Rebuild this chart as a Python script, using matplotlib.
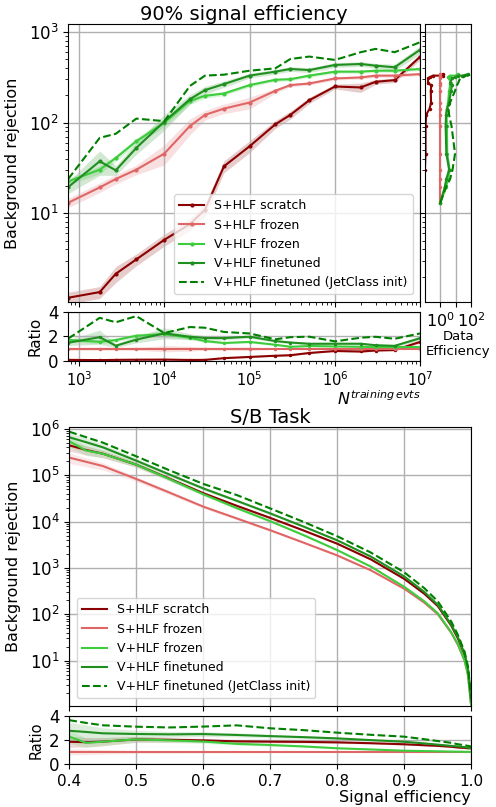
import matplotlib
matplotlib.use("Agg")
import matplotlib.pyplot as plt
import numpy as np

labels = ["S+HLF scratch", "S+HLF frozen", "V+HLF frozen", "V+HLF finetuned",
          "V+HLF finetuned (JetClass init)"]
colors = ["darkred", "#e06666", "#3ccc3c", "#1f8f1f", "green"]

# --- top: rejection at 90% signal efficiency vs training size
n_train = [750, 1750, 2700, 4700, 1e4, 2e4, 3e4, 5e4, 1e5, 2e5, 3e5, 5e5,
           1e6, 2e6, 3e6, 5e6, 1e7]
rej_scratch = [1.17, 1.35, 2.15, 3.1, 5.1, 7.6, 11, 33, 55, 96, 122, 177,
               251, 245, 283, 295, 537]
rej_s_frozen = [13.1, 19.3, 23.9, 30.3, 45.6, 92, 122, 143, 167, 225, 260,
                271, 308, 316, 331, 331, 344]
rej_v_frozen = [22.5, 30.3, 40.8, 62.5, 100, 174, 198, 210, 260, 298, 302,
                331, 366, 366, 375, 375, 392]
rej_v_fine = [19.5, 37.5, 29.8, 52.7, 103, 182, 229, 267, 331, 366, 392,
              381, 434, 445, 426, 409, 641]
rej_v_jc = [24, 68, 75.5, 111, 104, 255, 331, 339, 375, 398, 505, 537, 493,
            600, 653, 600, 775]

# relative band half-widths
err_scratch = [0.15, 0.15, 0.2, 0.15, 0.15, 0.15, 0.15, 0.15, 0.15, 0.1,
               0.1, 0.08, 0.06, 0.12, 0.06, 0.06, 0.08]
err_s_frozen = [0.12, 0.12, 0.12, 0.12, 0.25, 0.2, 0.12, 0.12, 0.15, 0.06,
                0.04, 0.04, 0.04, 0.04, 0.04, 0.04, 0.04]
err_v_frozen = [0.08, 0.1, 0.08, 0.08, 0.1, 0.08, 0.06, 0.05, 0.05, 0.04,
                0.04, 0.04, 0.04, 0.04, 0.04, 0.04, 0.04]
err_v_fine = [0.15, 0.3, 0.12, 0.15, 0.2, 0.12, 0.1, 0.08, 0.06, 0.06,
              0.06, 0.06, 0.06, 0.06, 0.06, 0.08, 0.1]

# data efficiency (side panel), at the S+HLF frozen rejection levels
deff_scratch = [np.nan, np.nan, np.nan, 0.1, 0.11, 0.11, 0.12, 0.2, 0.25,
                0.24, 0.26, 0.16, 0.16, 0.2, 0.33, 1.5, 1.5]
deff_s_frozen = [1.0] * 17
deff_v_frozen = [1.0, 2.3, 3.2, 4.0, 2.8, 2.7, 2.5, 2.7, 3.2, 3.7, 4.3, 4.9,
                 3.7, 3.2, 4.1, 10.5, 14]
deff_v_fine = [1.0, 1.9, 2.45, 3.7, 2.45, 2.2, 2.35, 2.7, 3.7, 4.9, 5.7,
               4.3, 5.7, 9, 14, 25, 63]
deff_v_jc = [1.0, 2.3, 4.3, 6.2, 9, 5.3, 3.7, 3.4, 4.3, 9, 12, 14, 19, 30,
             47, 63, 100]

# --- bottom: ROC curves
sig_eff = [0.40, 0.425, 0.45, 0.50, 0.55, 0.60, 0.65, 0.70, 0.75, 0.80,
           0.85, 0.90, 0.93, 0.95, 0.97, 0.98, 0.99, 0.995, 1.0]
roc_scratch = [4.42e5, 3.51e5, 2.92e5, 1.69e5, 8.4e4, 4.1e4, 2.19e4, 1.2e4,
               6.4e3, 3.33e3, 1530, 579, 276, 150, 57, 30, 13.3, 6.5, 1.3]
roc_s_frozen = [2.4e5, 1.95e5, 1.58e5, 8.3e4, 4.2e4, 2.1e4, 1.17e4, 6.5e3,
                3.5e3, 1.86e3, 890, 355, 178, 100, 40, 22, 10, 5, 1.0]
roc_v_frozen = [5.42e5, 3.41e5, 2.91e5, 1.69e5, 8.2e4, 3.89e4, 1.95e4,
                1.02e4, 5.08e3, 2.42e3, 1070, 390, 190, 105, 41, 22.4, 10.1,
                5.0, 1.0]
roc_v_fine = [6.6e5, 5.17e5, 4.01e5, 2.06e5, 1.03e5, 5.2e4, 2.81e4, 1.5e4,
              7.77e3, 3.94e3, 1760, 653, 303, 160, 60, 32, 14, 6.75, 1.3]
roc_v_jc = [8.7e5, 6.63e5, 5.06e5, 2.56e5, 1.27e5, 6.5e4, 3.74e4, 1.92e4,
            9.8e3, 4.82e3, 2150, 802, 365, 190, 70, 36, 15.5, 7.5, 1.45]
roc_err = [0.25, 0.22, 0.18, 0.12, 0.1, 0.08, 0.07, 0.06, 0.05, 0.05, 0.04,
           0.04, 0.04, 0.04, 0.04, 0.04, 0.04, 0.04, 0.04]

plt.rcParams['font.size'] = 12
fig = plt.figure(figsize=(4.96, 8.07), dpi=100)

ax_top = fig.add_axes([0.1377, 0.6258, 0.7097, 0.3445])
ax_topr = fig.add_axes([0.1377, 0.5527, 0.7097, 0.0607], sharex=ax_top)
ax_side = fig.add_axes([0.8563, 0.6258, 0.094, 0.3445], sharey=ax_top)
ax_bot = fig.add_axes([0.1397, 0.1252, 0.8105, 0.3457])
ax_botr = fig.add_axes([0.1397, 0.0533, 0.8105, 0.0599], sharex=ax_bot)

n = np.array(n_train)
ref = np.array(rej_s_frozen)
top_series = [rej_scratch, rej_s_frozen, rej_v_frozen, rej_v_fine]
top_err = [err_scratch, err_s_frozen, err_v_frozen, err_v_fine]
for y, e, c, lab in zip(top_series, top_err, colors[:4], labels[:4]):
    y = np.array(y)
    e = np.array(e)
    ax_top.fill_between(n, y * (1 - e), y * (1 + e), color=c, alpha=0.2, lw=0)
    ax_top.plot(n, y, color=c, marker='.', ms=4, lw=1.5, label=lab)
    ax_topr.fill_between(n, y * (1 - e) / ref, y * (1 + e) / ref, color=c,
                         alpha=0.2, lw=0)
    ax_topr.plot(n, y / ref, color=c, marker='.', ms=3, lw=1.5)
ax_top.plot(n, rej_v_jc, color=colors[4], ls='--', lw=1.5, label=labels[4])
ax_topr.plot(n, np.array(rej_v_jc) / ref, color=colors[4], ls='--', lw=1.5)

ax_top.set_xscale('log')
ax_top.set_yscale('log')
ax_top.set_xlim(750, 1e7)
ax_top.set_ylim(1.05, 1230)
ax_top.grid(True, color='#b0b0b0', lw=1)
ax_top.tick_params(labelbottom=False)
ax_top.set_ylabel('Background rejection', fontsize=11.5, labelpad=6)
ax_top.set_title('90% signal efficiency', fontsize=14, pad=3)
ax_top.legend(loc='lower right', fontsize=9, handlelength=2.0,
              borderaxespad=0.6)

ax_topr.set_ylim(0, 4)
ax_topr.set_yticks([0, 2, 4])
ax_topr.grid(True, color='#b0b0b0', lw=1)
ax_topr.set_ylabel('Ratio', fontsize=11)
ax_topr.set_xlabel('$N^{training\\,evts}$', loc='right', labelpad=0,
                   fontsize=11.5)
ax_topr.tick_params(axis='x', labelsize=10.5)

side_series = [deff_scratch, deff_s_frozen, deff_v_frozen, deff_v_fine]
for x, c in zip(side_series, colors[:4]):
    ax_side.plot(x, ref, color=c, marker='.', ms=3, lw=1.5)
ax_side.plot(deff_v_jc, ref, color=colors[4], ls='--', lw=1.5)
ax_side.set_xscale('log')
ax_side.set_xlim(0.097, 103)
ax_side.set_xticks([1, 10, 100])
ax_side.set_xticklabels(['$10^0$', '', '$10^2$'])
ax_side.tick_params(labelleft=False, axis='both')
ax_side.tick_params(axis='x', labelsize=11.5)
ax_side.grid(True, color='#b0b0b0', lw=1)
ax_side.set_xlabel('Data\nEfficiency', fontsize=9.5)
ax_side.xaxis.set_label_coords(0.72, -0.1, transform=ax_side.transAxes)
ax_side.xaxis.label.set_va('top')

eff = np.array(sig_eff)
bref = np.array(roc_s_frozen)
be = np.array(roc_err)
bot_series = [roc_scratch, roc_s_frozen, roc_v_frozen, roc_v_fine]
for y, c, lab in zip(bot_series, colors[:4], labels[:4]):
    y = np.array(y)
    ax_bot.fill_between(eff, y * (1 - be), y * (1 + be), color=c, alpha=0.15,
                        lw=0)
    ax_bot.plot(eff, y, color=c, lw=1.5, label=lab)
    ax_botr.fill_between(eff, y * (1 - be) / bref, y * (1 + be) / bref,
                         color=c, alpha=0.15, lw=0)
    ax_botr.plot(eff, y / bref, color=c, lw=1.5)
ax_bot.plot(eff, roc_v_jc, color=colors[4], ls='--', lw=1.5, label=labels[4])
ax_botr.plot(eff, np.array(roc_v_jc) / bref, color=colors[4], ls='--', lw=1.5)

ax_bot.set_yscale('log')
ax_bot.set_xlim(0.4, 1.0)
ax_bot.set_ylim(1.05, 1.1e6)
ax_bot.grid(True, color='#b0b0b0', lw=1)
ax_bot.tick_params(labelbottom=False)
ax_bot.set_ylabel('Background rejection', fontsize=11.5, labelpad=6)
ax_bot.set_title('S/B Task', fontsize=14, pad=3)
ax_bot.legend(loc='lower left', fontsize=9, handlelength=2.0,
              borderaxespad=0.6)

ax_botr.set_ylim(0, 4)
ax_botr.set_yticks([0, 2, 4])
ax_botr.grid(True, color='#b0b0b0', lw=1)
ax_botr.set_ylabel('Ratio', fontsize=10.5)
ax_botr.set_xlabel('Signal efficiency', loc='right', labelpad=1,
                   fontsize=11.5)
ax_botr.tick_params(axis='x', labelsize=11)

fig.savefig('out.png', dpi=100)
